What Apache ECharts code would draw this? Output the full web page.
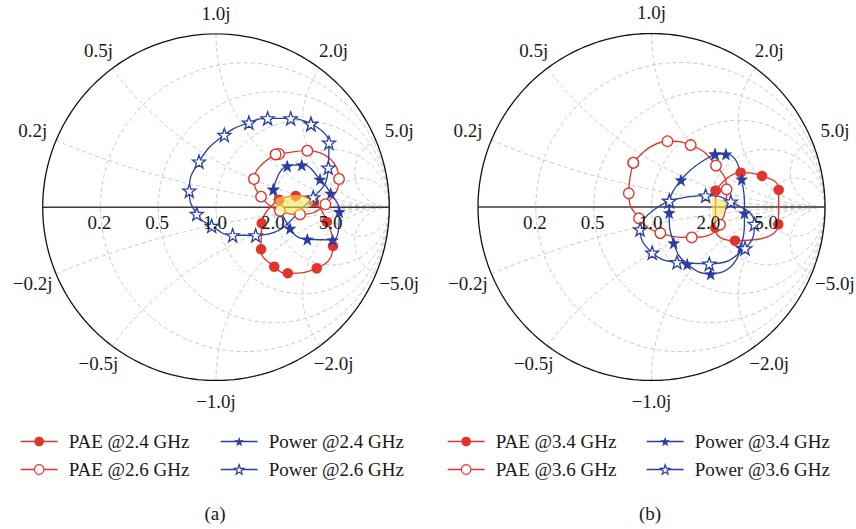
<!DOCTYPE html>
<html>
<head>
<meta charset="UTF-8">
<title>Load-pull contours on Smith chart</title>
<script src="https://cdn.jsdelivr.net/npm/echarts@6/dist/echarts.min.js"></script>
<style>
  html, body { margin: 0; padding: 0; background: #fff; }
  #main { width: 856px; height: 529px; }
</style>
</head>
<body>
<div id="main"></div>
<script>
// Smith grid values and labels
var rCircles = [0.2, 0.5, 1, 2, 5];
var xArcs = [0.2, 0.5, 1, 2, 5, -0.2, -0.5, -1, -2, -5];
var realLabels = ['0.2', '0.5', '1.0', '2.0', '5.0'];
var imagLabels = ['0.2j', '0.5j', '1.0j', '2.0j', '5.0j', '−0.2j', '−0.5j', '−1.0j', '−2.0j', '−5.0j'];
var captions = ['(a)', '(b)'];
var namesA = ['PAE @2.4 GHz', 'PAE @2.6 GHz', 'Power @2.4 GHz', 'Power @2.6 GHz'];
var namesB = ['PAE @3.4 GHz', 'PAE @3.6 GHz', 'Power @3.4 GHz', 'Power @3.6 GHz'];

// contour points as reflection coefficient [re, im], chart (a)
var pae24 = [[0.364, 0.042], [0.460, 0.065], [0.565, 0.030], [0.640, -0.085], [0.675, -0.224], [0.581, -0.353], [0.414, -0.381], [0.336, -0.343], [0.260, -0.243], [0.264, -0.093]];
var pae26 = [[0.344, 0.305], [0.364, 0.307], [0.527, 0.326], [0.710, 0.163], [0.631, 0.017], [0.485, -0.041], [0.369, -0.020], [0.260, 0.061], [0.219, 0.163]];
var pow24 = [[0.331, 0.103], [0.411, 0.238], [0.495, 0.244], [0.600, 0.161], [0.662, 0.080], [0.711, -0.026], [0.673, -0.189], [0.527, -0.185], [0.427, -0.122]];
var pow26 = [[0.548, 0.480], [0.431, 0.513], [0.298, 0.513], [0.190, 0.488], [0.048, 0.417], [-0.098, 0.263], [-0.154, 0.095], [-0.111, -0.039], [-0.025, -0.108], [0.096, -0.162], [0.229, -0.162], [0.561, 0.057], [0.648, 0.228], [0.652, 0.372]];
var overlapA = [[0.350, 0.051], [0.417, 0.066], [0.475, 0.070], [0.529, 0.051], [0.561, 0.026], [0.514, -0.012], [0.456, -0.032], [0.398, -0.035], [0.359, -0.020], [0.344, 0.013]];

// chart (b)
var pae34 = [[0.370, 0.094], [0.514, 0.198], [0.637, 0.179], [0.733, 0.098], [0.731, -0.100], [0.481, -0.194], [0.368, -0.119]];
var pae36 = [[-0.105, 0.255], [0.092, 0.379], [0.226, 0.357], [0.372, 0.239], [0.433, 0.102], [0.395, -0.101], [0.232, -0.175], [0.051, -0.150], [-0.072, -0.065], [-0.131, 0.079]];
var pow34 = [[0.366, 0.305], [0.429, 0.305], [0.520, 0.160], [0.536, -0.035], [0.516, -0.233], [0.341, -0.386], [0.206, -0.329], [0.128, -0.207], [0.102, -0.033], [0.170, 0.156]];
var pow36 = [[0.103, 0.035], [0.312, 0.066], [0.457, 0.031], [0.593, -0.098], [0.539, -0.238], [0.333, -0.327], [0.147, -0.318], [0.004, -0.263], [-0.066, -0.129]];
var overlapB = [[0.350, 0.050], [0.414, 0.040], [0.435, 0.020], [0.414, -0.027], [0.391, -0.071], [0.376, -0.086], [0.353, -0.065], [0.347, 0.002]];

var RED = '#e3342b';
var BLUE = '#2b3ea3';
var FONT = '"Liberation Serif", "DejaVu Serif", serif';
var FONT_SIZE = 19;
var STAR = 'path://M0,-10L2.35,-3.24L9.51,-3.09L3.8,1.24L5.88,8.09L0,4L-5.88,8.09L-3.8,1.24L-9.51,-3.09L-2.35,-3.24Z';

// z = r + jx  ->  gamma = (z - 1) / (z + 1)
function gamma(r, x) {
  var d = (r + 1) * (r + 1) + x * x;
  return [(r * r + x * x - 1) / d, 2 * x / d];
}

function gridLine(gi, pts, solid) {
  return {
    type: 'line', xAxisIndex: gi, yAxisIndex: gi, data: pts,
    symbol: 'none', silent: true, animation: false, z: 1,
    lineStyle: solid
      ? { color: '#111', width: 1.3 }
      : { color: '#c8c8c8', width: 1, type: [4, 3] }
  };
}

function smithGrid(gi) {
  var list = [];
  rCircles.forEach(function (r) {
    var c = r / (r + 1), a = 1 / (r + 1), pts = [];
    for (var i = 0; i <= 200; i++) {
      var t = 2 * Math.PI * i / 200;
      pts.push([c + a * Math.cos(t), a * Math.sin(t)]);
    }
    list.push(gridLine(gi, pts, false));
  });
  xArcs.forEach(function (x) {
    var pts = [];
    for (var i = 0; i <= 150; i++) {
      var r = Math.tan(Math.PI / 2 * i / 150.5);
      pts.push(gamma(r, x));
    }
    pts.push([1, 0]);
    list.push(gridLine(gi, pts, false));
  });
  var outer = [];
  for (var i = 0; i <= 240; i++) {
    var t = 2 * Math.PI * i / 240;
    outer.push([Math.cos(t), Math.sin(t)]);
  }
  list.push(gridLine(gi, outer, true));
  var axisLine = gridLine(gi, [[-1, 0], [1, 0]], true);
  axisLine.lineStyle = { color: '#3a3a3a', width: 1.6 };
  list.push(axisLine);
  return list;
}

function labelSeries(gi) {
  var pos = [], texts = [];
  xArcs.forEach(function (x, i) {
    var g = gamma(0, x);
    var th = Math.atan2(g[1], g[0]);
    var f = 1.12 + 0.03 * Math.cos(th) * Math.cos(th);
    pos.push([f * Math.cos(th), f * Math.sin(th), 0, 0]);
    texts.push(imagLabels[i]);
  });
  rCircles.forEach(function (r, i) {
    var g = gamma(r, 0);
    pos.push([g[0], 0, -1, 15]);
    texts.push(realLabels[i]);
  });
  return {
    type: 'custom', xAxisIndex: gi, yAxisIndex: gi, silent: true, clip: false,
    animation: false, z: 6, data: pos,
    renderItem: function (params, api) {
      var p = api.coord([api.value(0), api.value(1)]);
      return {
        type: 'text', x: p[0] + api.value(2), y: p[1] + api.value(3),
        style: {
          text: texts[params.dataIndex], fill: '#1a1a1a', font: FONT_SIZE + 'px ' + FONT,
          align: 'center', verticalAlign: 'middle'
        }
      };
    }
  };
}

function overlapSeries(gi, pts) {
  return {
    type: 'custom', xAxisIndex: gi, yAxisIndex: gi, silent: true, animation: false,
    z: 5, data: [0],
    renderItem: function (params, api) {
      return {
        type: 'polygon',
        shape: { points: pts.map(function (p) { return api.coord(p); }), smooth: 0.35 },
        style: { fill: 'rgba(243,232,84,0.6)', stroke: null }
      };
    }
  };
}

function contour(gi, name, pts, kind, hollow) {
  var isPae = kind === 'pae';
  var color = isPae ? RED : BLUE;
  return {
    name: name, type: 'line', xAxisIndex: gi, yAxisIndex: gi,
    data: pts.concat([pts[0]]), smooth: 0.5, animation: false, z: 3,
    symbol: isPae ? 'circle' : STAR,
    symbolSize: isPae ? 10.5 : 13,
    lineStyle: { color: color, width: 1.3 },
    itemStyle: hollow
      ? { color: '#fff', borderColor: color, borderWidth: 1.3 }
      : { color: color, borderWidth: 0 }
  };
}

function chartSeries(gi, names, sets, overlap) {
  var list = smithGrid(gi);
  list.push(contour(gi, names[0], sets[0], 'pae', false));
  list.push(contour(gi, names[1], sets[1], 'pae', true));
  list.push(contour(gi, names[2], sets[2], 'pow', false));
  list.push(contour(gi, names[3], sets[3], 'pow', true));
  list.push(overlapSeries(gi, overlap));
  list.push(labelSeries(gi));
  return list;
}

function legendItem(name, color, hollow) {
  return {
    name: name,
    lineStyle: { color: color, width: 1.3 },
    itemStyle: hollow
      ? { color: '#fff', borderColor: color, borderWidth: 1.2 }
      : { color: color, borderColor: color, borderWidth: 0 }
  };
}

function legendCol(left, names, color) {
  return {
    left: left, top: 432, orient: 'vertical', itemGap: 9, padding: 0,
    itemWidth: 37, itemHeight: 12,
    data: [legendItem(names[0], color, false), legendItem(names[1], color, true)],
    textStyle: { fontFamily: FONT, fontSize: FONT_SIZE, color: '#1a1a1a', padding: [0, 0, 0, 6] },
    selectedMode: false
  };
}

var chart = echarts.init(document.getElementById('main'), null, { renderer: 'svg' });

function axes(n) {
  var a = [];
  for (var i = 0; i < n; i++) {
    a.push({ type: 'value', gridIndex: i, min: -1, max: 1, show: false });
  }
  return a;
}

var option = {
  backgroundColor: '#fff',
  animation: false,
  grid: [
    { left: 42.7, top: 33.9, width: 346.6, height: 346.6 },
    { left: 478, top: 33.5, width: 347, height: 347 }
  ],
  xAxis: axes(2),
  yAxis: axes(2),
  legend: [
    legendCol(20, [namesA[0], namesA[1]], RED),
    legendCol(220, [namesA[2], namesA[3]], BLUE),
    legendCol(447, [namesB[0], namesB[1]], RED),
    legendCol(646, [namesB[2], namesB[3]], BLUE)
  ],
  graphic: [
    { type: 'text', x: 215, y: 513, style: { text: captions[0], font: FONT_SIZE + 'px ' + FONT, fill: '#1a1a1a', align: 'center', verticalAlign: 'middle' } },
    { type: 'text', x: 650, y: 513, style: { text: captions[1], font: FONT_SIZE + 'px ' + FONT, fill: '#1a1a1a', align: 'center', verticalAlign: 'middle' } }
  ],
  series: chartSeries(0, namesA, [pae24, pae26, pow24, pow26], overlapA)
    .concat(chartSeries(1, namesB, [pae34, pae36, pow34, pow36], overlapB))
};

chart.setOption(option);
</script>
</body>
</html>
